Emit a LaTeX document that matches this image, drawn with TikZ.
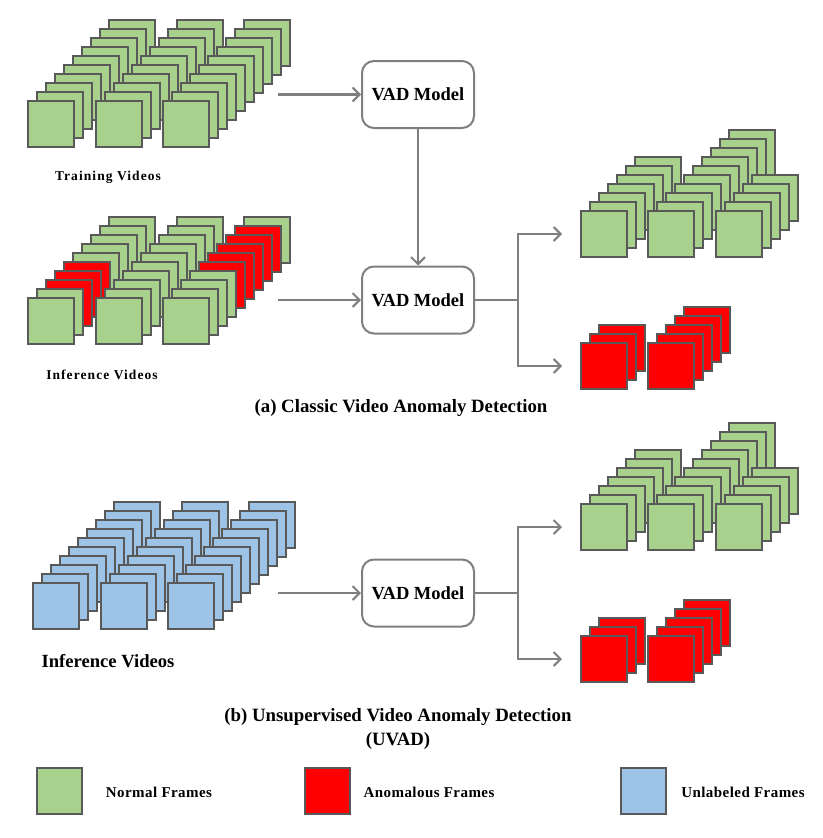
\documentclass[tikz,border=0pt]{standalone}
\usepackage{fontspec}
\setmainfont{Liberation Serif}
\usetikzlibrary{arrows.meta,shapes}
\definecolor{normgreen}{HTML}{A9D18E}
\definecolor{anomred}{HTML}{FF0000}
\definecolor{unlblue}{HTML}{9DC3E6}
\definecolor{framegray}{HTML}{595959}
\definecolor{linegray}{HTML}{7F7F7F}
\tikzstyle{frame}=[draw=framegray,line width=2.2pt]
\tikzstyle{model}=[draw=linegray,line width=2pt,rounded corners=12pt,minimum width=112pt,minimum height=67pt,inner sep=0pt,font=\fontsize{18.5}{22}\selectfont\bfseries]
\tikzstyle{edge}=[draw,line width=2.1pt,linegray,-{Straight Barb[length=7pt,width=14pt]}]
\tikzstyle{wire}=[draw,line width=2.1pt,linegray]
\tikzstyle{caption}=[font=\fontsize{18.8}{24}\selectfont\bfseries,align=center]
\tikzstyle{biglabel}=[font=\fontsize{18.6}{22}\selectfont\bfseries]
\tikzstyle{small}=[font=\fontsize{13.5}{16}\selectfont\bfseries\addfontfeature{LetterSpace=8}]
\tikzstyle{legend}=[font=\fontsize{15}{18}\selectfont\bfseries\addfontfeature{LetterSpace=3}]

\begin{document}
\begin{tikzpicture}[x=1pt,y=-1pt]
    \useasboundingbox (0,0) rectangle (822,838);

    % training videos
    \foreach \x in {28,96,163}
        \foreach \k in {9,...,0}
            \draw[frame,fill=normgreen] (\x+9*\k,101-9*\k) rectangle ++(46,46);
    \node[small] (train) at (108,177) {Training Videos};

    % inference videos, red frames from \lo to \hi
    \foreach \x/\lo/\hi in {28/2/4, 96/10/10, 163/4/8}
        \foreach \k in {9,...,0} {
            \def\col{normgreen}
            \ifnum\k<\lo\relax\else\ifnum\k>\hi\relax\else\def\col{anomred}\fi\fi
            \draw[frame,fill=\col] (\x+9*\k,298-9*\k) rectangle ++(46,46);
        }
    \node[small] (infa) at (102,375) {Inference Videos};

    % unlabeled videos
    \foreach \x in {33,101,168}
        \foreach \k in {9,...,0}
            \draw[frame,fill=unlblue] (\x+9*\k,583-9*\k) rectangle ++(46,46);
    \node[biglabel] (infb) at (108,661) {Inference Videos};

    \node[model] (vad1) at (418,94.5) {VAD Model};
    \node[model] (vad2) at (418,300) {VAD Model};
    \node[model] (vad3) at (418,593) {VAD Model};

    \def\dy{0};
    \foreach \x/\n in {581/6, 648/9, 716/4}
        \foreach \k in {\n,...,0}
            \draw[frame,fill=normgreen] (\x+9*\k,211+\dy-9*\k) rectangle ++(46,46);
    \foreach \x/\n in {581/2, 648/4}
        \foreach \k in {\n,...,0}
            \draw[frame,fill=anomred] (\x+9*\k,343+\dy-9*\k) rectangle ++(46,46);

    \def\dy{293};
    \foreach \x/\n in {581/6, 648/9, 716/4}
        \foreach \k in {\n,...,0}
            \draw[frame,fill=normgreen] (\x+9*\k,211+\dy-9*\k) rectangle ++(46,46);
    \foreach \x/\n in {581/2, 648/4}
        \foreach \k in {\n,...,0}
            \draw[frame,fill=anomred] (\x+9*\k,343+\dy-9*\k) rectangle ++(46,46);

    \foreach \name/\x/\y in {in1/278/94.5, in2/278/300, in3/278/593, br2/518/300, up2/562/234, dn2/562/366, br3/518/593, up3/562/527, dn3/562/659}
        \coordinate (\name) at (\x,\y);

    \draw[edge] (in1) -- (vad1.west);
    \draw[edge] (vad1.south) -- (vad2.north);
    \draw[edge] (in2) -- (vad2.west);
    \draw[wire] (vad2.east) -- (br2);
    \draw[edge] (br2) |- (up2);
    \draw[edge] (br2) |- (dn2);

    \draw[edge] (in3) -- (vad3.west);
    \draw[wire] (vad3.east) -- (br3);
    \draw[edge] (br3) |- (up3);
    \draw[edge] (br3) |- (dn3);

    \node[caption] (capa) at (401,408) {(a) Classic Video Anomaly Detection};
    \node[caption] (capb) at (398,729) {(b) Unsupervised Video Anomaly Detection\\(UVAD)};

    % legend
    \foreach \x/\col/\name/\tx/\txt in {37/normgreen/normal/159/Normal Frames, 305/anomred/anomalous/429/Anomalous Frames, 621/unlblue/unlabeled/743/Unlabeled Frames} {
        \draw[frame,fill=\col] (\x,768) rectangle ++(45,46);
        \node[legend] (\name) at (\tx,792) {\txt};
    }
\end{tikzpicture}
\end{document}
